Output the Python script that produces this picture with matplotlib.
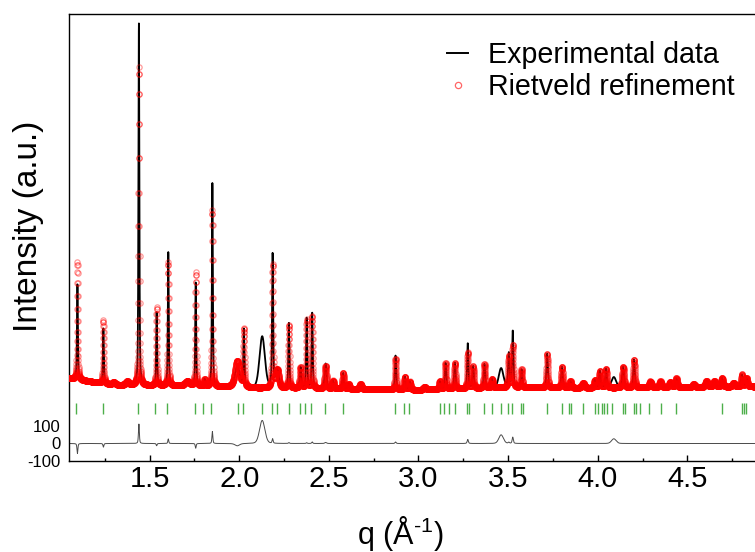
import numpy as np
import matplotlib
matplotlib.use('Agg')
import matplotlib.pyplot as plt
from matplotlib.ticker import MultipleLocator, FixedLocator
from matplotlib.lines import Line2D

plt.rcParams['font.family'] = ['Liberation Sans', 'DejaVu Sans']
plt.rcParams['mathtext.fontset'] = 'custom'
plt.rcParams['mathtext.rm'] = 'Liberation Sans'
plt.rcParams['mathtext.default'] = 'regular'
plt.rcParams['axes.unicode_minus'] = False

PEAK_Q = [1.097, 1.242, 1.300, 1.375, 1.440, 1.539, 1.604, 1.710, 1.757, 1.807, 1.850,
          1.989, 2.026, 2.186, 2.212, 2.277, 2.342, 2.376, 2.407, 2.482, 2.524, 2.580,
          2.611, 2.677, 2.872, 2.924, 2.952, 3.035, 3.119, 3.151, 3.203, 3.275, 3.305,
          3.368, 3.411, 3.504, 3.526, 3.575, 3.718, 3.801, 3.848, 3.919, 3.984, 4.012,
          4.047, 4.142, 4.203, 4.294, 4.350, 4.405, 4.439, 4.536, 4.607, 4.651, 4.694,
          4.759, 4.805, 4.830]
PEAK_OBS = [543, 314, 15, 20, 2067, 417, 762, 25, 590, 40, 1162,
            120, 326, 760, 103, 371, 120, 400, 430, 143, 46, 91,
            29, 29, 194, 74, 46, 17, 46, 149, 149, 257, 126,
            137, 51, 194, 320, 103, 194, 120, 40, 29, 46, 97,
            109, 120, 160, 34, 34, 29, 51, 17, 34, 34, 51,
            23, 69, 51]
PEAK_CALC = [669, 360, 15, 20, 1820, 446, 704, 25, 650, 40, 1010,
             150, 326, 703, 103, 360, 120, 390, 410, 130, 46, 91,
             29, 29, 175, 74, 46, 17, 46, 149, 149, 206, 126,
             137, 51, 180, 240, 103, 194, 120, 40, 29, 46, 97,
             109, 120, 160, 34, 34, 29, 51, 17, 34, 34, 51,
             23, 69, 51]
PEAK_FWHM = [0.006, 0.006, 0.02, 0.02, 0.006, 0.006, 0.006, 0.03, 0.006, 0.008, 0.006,
             0.03, 0.007, 0.007, 0.02, 0.007, 0.01, 0.007, 0.007, 0.012, 0.01, 0.01,
             0.01, 0.015, 0.008, 0.01, 0.01, 0.015, 0.01, 0.009, 0.009, 0.008, 0.009,
             0.009, 0.01, 0.009, 0.008, 0.009, 0.009, 0.01, 0.01, 0.015, 0.01, 0.01,
             0.01, 0.012, 0.01, 0.015, 0.015, 0.015, 0.012, 0.015, 0.015, 0.015, 0.012,
             0.015, 0.01, 0.012]

# broad humps present only in the measured data (not refined)
EXTRA_Q = [2.128, 3.461, 4.090]
EXTRA_H = [293, 110, 60]
EXTRA_FWHM = [0.035, 0.03, 0.03]

# background level
BG_Q = [1.05, 1.15, 1.30, 1.70, 2.10, 2.60, 3.00, 3.50, 4.00, 4.90]
BG_LEVEL = [374, 357, 334, 329, 317, 311, 306, 320, 317, 325]

# Bragg reflection positions
BRAGG_Q = [1.091, 1.240, 1.433, 1.532, 1.599, 1.755, 1.798, 1.840, 1.991, 2.021,
           2.127, 2.182, 2.212, 2.276, 2.338, 2.368, 2.400, 2.479, 2.579, 2.871,
           2.921, 2.946, 3.119, 3.144, 3.169, 3.206, 3.268, 3.280, 3.367, 3.409,
           3.459, 3.501, 3.521, 3.570, 3.583, 3.719, 3.801, 3.838, 3.851, 3.918,
           3.987, 4.004, 4.022, 4.037, 4.054, 4.079, 4.141, 4.153, 4.203, 4.215,
           4.235, 4.289, 4.351, 4.438, 4.691, 4.803, 4.818, 4.830]

DIFF_SCALE = 0.45
BRAGG_LEVEL = 200


def pseudo_voigt(q, centre, height, fwhm, eta=0.5):
    x = (q - centre) / (fwhm / 2)
    return height * (eta / (1 + x ** 2) + (1 - eta) * np.exp(-np.log(2) * x ** 2))


def build_patterns(q):
    bg = np.interp(q, BG_Q, BG_LEVEL)
    obs = bg.copy()
    calc = bg.copy()
    for c, ho, hc, w in zip(PEAK_Q, PEAK_OBS, PEAK_CALC, PEAK_FWHM):
        obs += pseudo_voigt(q, c, ho, w)
        calc += pseudo_voigt(q, c, hc, w)
    for c, h, w in zip(EXTRA_Q, EXTRA_H, EXTRA_FWHM):
        obs += pseudo_voigt(q, c, h, w, eta=0.2)
    return obs, calc


q = np.arange(1.05, 4.9, 0.0005)
obs, calc = build_patterns(q)
diff = (obs - calc) * DIFF_SCALE

fig = plt.figure(figsize=(7.55, 5.52), dpi=100)
ax = fig.add_axes([69 / 755, 91 / 552, 690 / 755, 447 / 552])

ax.plot(q, obs, color='black', lw=1.3, zorder=2)
ax.plot(q, calc, ls='none', marker='o', ms=3.8, mfc='none', mec='red',
        mew=0.9, alpha=0.4, zorder=3)
ax.vlines(BRAGG_Q, BRAGG_LEVEL - 30, BRAGG_LEVEL + 32, color='#4daf4a', lw=1.0)
ax.plot(q, diff, color='#4a4a4a', lw=0.7, zorder=2)

ax.set_xlim(1.05, 4.9)
ax.set_ylim(-100, 2454)
ax.xaxis.set_major_locator(MultipleLocator(0.5))
ax.xaxis.set_minor_locator(MultipleLocator(0.25))
ax.yaxis.set_major_locator(FixedLocator([-100, 0, 100]))
ax.tick_params(axis='x', which='major', direction='in', length=4.5, width=1.0,
               labelsize=21, pad=3)
ax.tick_params(axis='x', which='minor', direction='in', length=2.5, width=1.0)
ax.tick_params(axis='y', which='major', length=0, labelsize=12, pad=6)
for side in ['left', 'bottom', 'top']:
    ax.spines[side].set_linewidth(1.0)
ax.spines['right'].set_visible(False)

ax.set_xlabel('q (Å$^{\u2010 1}$)', fontsize=22)
ax.xaxis.set_label_coords((400 - 69) / 690, -0.118)
fig.text(29 / 755, 1 - 226 / 552, 'Intensity (a.u.)', rotation=90,
         ha='center', va='center', fontsize=24)

handles = [Line2D([], [], color='black', lw=1.4),
           Line2D([], [], ls='none', marker='o', ms=4.5, mfc='none', mec='red',
                  mew=0.9, alpha=0.6)]
fig.legend(handles, ['Experimental data', 'Rietveld refinement'],
           loc='upper left', bbox_to_anchor=(447 / 755, 1 - 41 / 552),
           frameon=False, fontsize=20.6, handlelength=0.75, handletextpad=0.7,
           labelspacing=0.15, borderpad=0, borderaxespad=0)

fig.savefig('out.png', dpi=100)
